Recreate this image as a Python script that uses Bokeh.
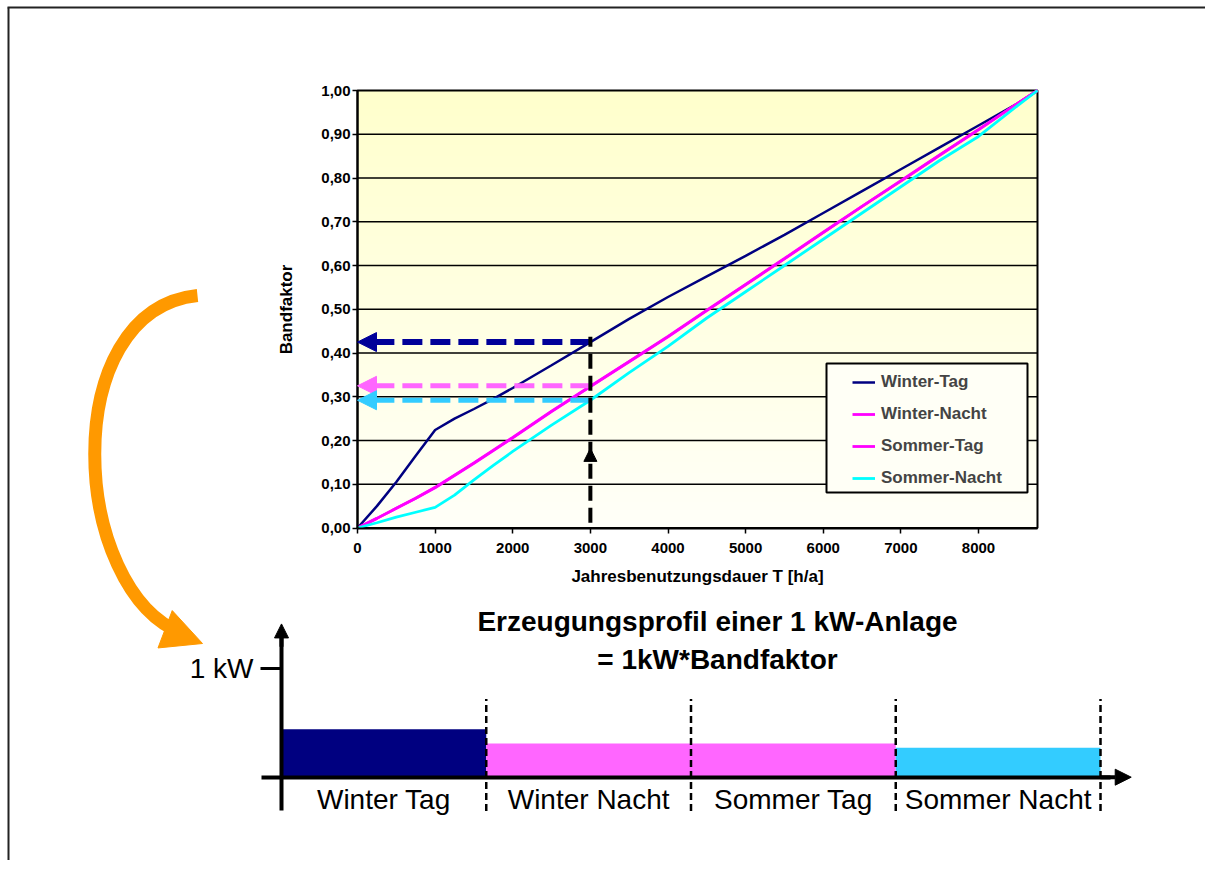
import numpy as np
from bokeh.plotting import figure
from bokeh.models import (Range1d, LinearAxis, FixedTicker, Legend, LegendItem,
                          Arrow, NormalHead)
from bokeh.embed import file_html
from bokeh.resources import INLINE
from bokeh.core.properties import value

# ---------------- data ----------------
hours = [0, 250, 500, 750, 1000, 1250, 1500, 1750, 2000, 2500, 3000, 3500,
         4000, 4500, 5000, 5500, 6000, 6500, 7000, 7500, 8000, 8500, 8760]
winter_tag = [0.0, 0.05, 0.105, 0.165, 0.224, 0.25, 0.272, 0.295, 0.32, 0.372, 0.425,
              0.478, 0.528, 0.575, 0.622, 0.67, 0.72, 0.77, 0.82, 0.87, 0.92, 0.97, 1.0]
winter_nacht = [0.0, 0.022, 0.045, 0.068, 0.092, 0.12, 0.148, 0.177, 0.206, 0.266, 0.323,
                0.38, 0.437, 0.497, 0.556, 0.615, 0.675, 0.735, 0.793, 0.852, 0.91, 0.97, 1.0]
sommer_tag = [0.0, 0.022, 0.045, 0.068, 0.093, 0.121, 0.149, 0.178, 0.207, 0.267, 0.324,
              0.381, 0.438, 0.498, 0.557, 0.616, 0.676, 0.735, 0.794, 0.853, 0.911, 0.97, 1.0]
sommer_nacht = [0.0, 0.012, 0.025, 0.036, 0.047, 0.075, 0.11, 0.143, 0.175, 0.235, 0.292,
                0.355, 0.415, 0.48, 0.54, 0.6, 0.66, 0.72, 0.78, 0.84, 0.895, 0.965, 1.0]
series_names = ["Winter-Tag", "Winter-Nacht", "Sommer-Tag", "Sommer-Nacht"]
series_values = [winter_tag, winter_nacht, sommer_tag, sommer_nacht]
series_colors = ["#000080", "#FF00FF", "#FF00FF", "#00FFFF"]
series_widths = [2.5, 2.8, 2.8, 2.8]

x_ticks = [0, 1000, 2000, 3000, 4000, 5000, 6000, 7000, 8000]
y_ticks = [0.0, 0.1, 0.2, 0.3, 0.4, 0.5, 0.6, 0.7, 0.8, 0.9, 1.0]
y_tick_labels = ["0,00", "0,10", "0,20", "0,30", "0,40", "0,50",
                 "0,60", "0,70", "0,80", "0,90", "1,00"]

read_hours = 3000
read_values = [0.425, 0.325, 0.292]
read_colors = ["#000099", "#FF66FF", "#33CCFF"]
read_widths = [6, 5, 5]

profile_segments = ["Winter Tag", "Winter Nacht", "Sommer Tag", "Sommer Nacht"]
profile_values = [0.44, 0.31, 0.31, 0.27]
profile_colors = ["#000080", "#FF66FF", "#FF66FF", "#33CCFF"]

# ---------------- geometry (page pixels) ----------------
W, H = 1205, 860
PL, PT = 0, 0
PR, PB = PL + W, PT + H


def span(d0, p0, d1, p1, lo, hi):
    k = (d1 - d0) / (p1 - p0)
    return Range1d(start=d0 + (lo - p0) * k, end=d0 + (hi - p0) * k)


FONT = "Liberation Sans"

p = figure(width=W, height=H,
           x_range=span(0, 357, 8000, 978, PL, PR),
           y_range=span(0, 527.5, 1, 90, PB, PT),
           x_axis_location=None, y_axis_location=None,
           output_backend="svg", toolbar_location=None,
           min_border=0, outline_line_color=None,
           background_fill_color="white", border_fill_color="white")
p.title.visible = False
p.grid.visible = False

p.extra_x_ranges = {"px": Range1d(PL, PR), "seg": span(0, 281, 4, 1100, PL, PR)}
p.extra_y_ranges = {"py": Range1d(PB, PT), "kw": span(0, 776.7, 1, 668, PB, PT)}

# ---- plot area gradient background ----
n = 120
t = np.linspace(0, 1, n)
img = np.empty((n, 1), dtype=np.uint32)
view = img.view(dtype=np.uint8).reshape((n, 1, 4))
view[:, 0, 0] = 255
view[:, 0, 1] = 255
view[:, 0, 2] = np.round(248 + (204 - 248) * t).astype(np.uint8)
view[:, 0, 3] = 255
p.image_rgba(image=[img], x=0, y=0, dw=hours[-1], dh=y_ticks[-1])

# grid lines
p.segment(x0=0, x1=hours[-1], y0=y_ticks[1:-1], y1=y_ticks[1:-1],
          line_color="black", line_width=1.5)
# plot border
p.quad(left=0, right=hours[-1], bottom=0, top=y_ticks[-1],
       fill_color=None, line_color="black", line_width=2)

# legend box (page px)
p.quad(left=826, right=1027, top=363, bottom=492, x_range_name="px", y_range_name="py",
       fill_color="#FFFFF6", line_color="black", line_width=2)

# series
renderers = []
for name, ys, col, lw in zip(series_names, series_values, series_colors, series_widths):
    r = p.line(hours, ys, line_color=col, line_width=lw)
    renderers.append(r)

legend = Legend(items=[LegendItem(label=nm, renderers=[r]) for nm, r in zip(series_names, renderers)],
                location=(852 - PL, PB - 488), padding=0, margin=0, spacing=12,
                glyph_width=23, glyph_height=20, label_height=20, label_standoff=6,
                border_line_color=None, background_fill_alpha=0,
                label_text_font=FONT, label_text_font_style="bold",
                label_text_font_size="17px")
p.add_layout(legend)

# chart axes
def style_axis(ax):
    ax.axis_line_width = 2
    ax.axis_line_color = "black"
    ax.major_tick_line_width = 1.5
    ax.major_tick_line_color = "black"
    ax.major_tick_out = 5
    ax.major_tick_in = 0
    ax.minor_tick_out = 0
    ax.minor_tick_in = 0
    ax.major_label_text_font = FONT
    ax.major_label_text_font_style = "bold"
    ax.major_label_text_font_size = "15px"
    ax.major_label_text_color = "black"
    ax.axis_label_text_font = FONT
    ax.axis_label_text_font_style = "bold"
    ax.axis_label_text_font_size = "17px"
    ax.axis_label_text_color = "black"

xaxis = LinearAxis(fixed_location=0, bounds=(0, hours[-1]),
                   ticker=FixedTicker(ticks=x_ticks, minor_ticks=[]),
                   axis_label="Jahresbenutzungsdauer T [h/a]")
style_axis(xaxis)
xaxis.major_label_standoff = 10
xaxis.axis_label_standoff = 10
p.add_layout(xaxis, "below")

yaxis = LinearAxis(fixed_location=0, bounds=(0, y_ticks[-1]),
                   ticker=FixedTicker(ticks=y_ticks, minor_ticks=[]),
                   major_label_overrides=dict(zip(y_ticks, y_tick_labels)),
                   axis_label="Bandfaktor")
style_axis(yaxis)
yaxis.major_label_standoff = 2
yaxis.axis_label_standoff = 22
p.add_layout(yaxis, "left")

# reading arrows at T = 3000 h
for v, col, lw in zip(read_values, read_colors, read_widths):
    p.add_layout(Arrow(x_start=read_hours, y_start=v, x_end=0, y_end=v,
                       line_color=col, line_width=lw, line_dash="20 8",
                       end=NormalHead(size=19, fill_color=col, line_color=col, line_width=1)))
p.add_layout(Arrow(x_start=read_hours, y_start=0.012, x_end=read_hours, y_end=max(read_values) + 0.012,
                   line_color="black", line_width=4, line_dash="15 7", end=None))
p.add_layout(Arrow(x_start=read_hours, y_start=0.12, x_end=read_hours, y_end=0.182,
                   line_alpha=0, end=NormalHead(size=13, fill_color="black", line_color="black", line_width=1)))

# ---------------- lower profile diagram ----------------
seg_left = list(range(len(profile_segments)))
seg_right = [i + 1 for i in seg_left]
p.quad(left=seg_left, right=seg_right, bottom=0, top=profile_values,
       fill_color=profile_colors, line_color=None, x_range_name="seg", y_range_name="kw")
p.segment(x0=seg_right, x1=seg_right, y0=-0.31, y1=0.72, line_color="black",
          line_width=2.5, line_dash="7 4", x_range_name="seg", y_range_name="kw")

bx = LinearAxis(x_range_name="seg", y_range_name="kw", fixed_location=0,
                bounds=(-0.1, 4.05),
                ticker=FixedTicker(ticks=[i + 0.5 for i in seg_left], minor_ticks=[]),
                major_label_overrides={i + 0.5: s for i, s in zip(seg_left, profile_segments)})
bx.axis_line_width = 4
bx.axis_line_color = "black"
bx.major_tick_out = 0
bx.major_tick_in = 0
bx.minor_tick_out = 0
bx.major_label_standoff = 7
bx.major_label_text_font = FONT
bx.major_label_text_font_size = "28px"
bx.major_label_text_color = "black"
p.add_layout(bx, "below")

by = LinearAxis(x_range_name="seg", y_range_name="kw", fixed_location=0,
                bounds=(-0.31, 1.3),
                ticker=FixedTicker(ticks=[1], minor_ticks=[]),
                major_label_overrides={1: "1 kW"})
by.axis_line_width = 4
by.axis_line_color = "black"
by.major_tick_out = 21
by.major_tick_in = 0
by.major_tick_line_width = 3
by.minor_tick_out = 0
by.major_label_standoff = 7
by.major_label_text_font = FONT
by.major_label_text_font_size = "28px"
by.major_label_text_color = "black"
p.add_layout(by, "left")

p.add_layout(Arrow(x_start=0, y_start=1.2, x_end=0, y_end=1.41, x_range_name="seg", y_range_name="kw",
                   line_width=4, line_color="black",
                   end=NormalHead(size=14, fill_color="black", line_color="black", line_width=1)))
p.add_layout(Arrow(x_start=4.0, y_start=0, x_end=4.15, y_end=0, x_range_name="seg", y_range_name="kw",
                   line_width=4, line_color="black",
                   end=NormalHead(size=16, fill_color="black", line_color="black", line_width=1)))

p.text(x=[717, 717], y=[621, 659],
       text=["Erzeugungsprofil einer 1 kW-Anlage", "= 1kW*Bandfaktor"],
       x_range_name="px", y_range_name="py", text_align="center", text_baseline="middle",
       text_font=value(FONT), text_font_style="bold", text_font_size="28px", text_color="black")

# orange connecting arrow
p.bezier(x0=197, y0=295, x1=182, y1=633, cx0=55, cy0=310, cx1=70, cy1=590,
         x_range_name="px", y_range_name="py", line_color="#FF9900", line_width=13)
p.add_layout(Arrow(x_start=160, y_start=627, x_end=202, y_end=643, x_range_name="px", y_range_name="py",
                   line_alpha=0,
                   end=NormalHead(size=40, fill_color="#FF9900", line_color="#FF9900", line_width=1)))

# outer frame (top and left edges)
p.segment(x0=[7, 8], y0=[7, 7], x1=[PR, 8], y1=[7, PB],
          x_range_name="px", y_range_name="py", line_color="#222222", line_width=2)

open("out.html", "w").write(file_html(p, INLINE))
